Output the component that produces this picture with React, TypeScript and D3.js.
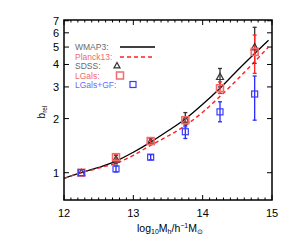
import React from "react";
import * as d3 from "d3";

const W = 291;
const H = 242;

// model curves (log10 Mh, b_rel)
const curveX = [12, 12.25, 12.5, 12.75, 13, 13.25, 13.5, 13.75, 14, 14.25, 14.5, 14.75, 14.95];
const wmap3 = [0.93, 1.0, 1.07, 1.16, 1.3, 1.48, 1.71, 1.99, 2.4, 2.95, 3.7, 4.6, 5.45];
const planck13 = [0.93, 1.0, 1.06, 1.13, 1.25, 1.42, 1.6, 1.83, 2.17, 2.66, 3.3, 4.15, 5.0];

// measured points
const massBins = [12.25, 12.75, 13.25, 13.75, 14.25, 14.75];
const sdss = [1.0, 1.19, 1.49, 1.98, 3.42, 5.0];
const sdssLo = [1.0, 1.12, 1.44, 1.84, 3.0, 4.06];
const sdssHi = [1.0, 1.25, 1.55, 2.16, 3.8, 6.44];
const lgals = [1.0, 1.22, 1.5, 1.96, 2.95, 4.7];
const lgalsLo = [1.0, 1.15, 1.45, 1.9, 2.76, 3.57];
const lgalsHi = [1.0, 1.27, 1.55, 2.04, 3.2, 5.83];
const lgalsGF = [1.0, 1.05, 1.22, 1.69, 2.18, 2.74];
const lgalsGFLo = [1.0, 1.01, 1.18, 1.55, 1.92, 1.96];
const lgalsGFHi = [1.0, 1.09, 1.26, 1.8, 2.48, 3.45];

const xTicks = [12, 13, 14, 15];
const yTicks = [1, 2, 3, 4, 5, 6, 7];

const legendItems = ["WMAP3:", "Planck13:", "SDSS:", "LGals:", "LGals+GF:"];
const legendColors = ["#6a6a6a", "#f06a6a", "#6a6a6a", "#f06a6a", "#6a6aff"];

const FONT = "'Liberation Sans', Arial, Helvetica, sans-serif";

export default function App() {
  const left = 64, right = 272, top = 20, bottom = 200;
  const x = d3.scaleLinear().domain([12, 15]).range([left, right]);
  const y = d3.scaleLog().domain([0.705, 7.07]).range([bottom, top]);

  const line = d3
    .line<number>()
    .x((_, i) => x(curveX[i]))
    .y((d) => y(d))
    .curve(d3.curveMonotoneX);

  const minorX = d3.range(120, 151).map((v) => v / 10);

  const errBar = (
    xs: number[], lo: number[], hi: number[], color: string, key: string
  ) =>
    xs.map((xv, i) => {
      if (hi[i] === lo[i]) return null;
      const cx = x(xv);
      return (
        <g key={key + i} stroke={color} strokeWidth={1.3}>
          <line x1={cx} x2={cx} y1={y(lo[i])} y2={y(hi[i])} />
          <line x1={cx - 2} x2={cx + 2} y1={y(lo[i])} y2={y(lo[i])} />
          <line x1={cx - 2} x2={cx + 2} y1={y(hi[i])} y2={y(hi[i])} />
        </g>
      );
    });

  const tri = (cx: number, cy: number, s = 3.5) =>
    `M${cx},${cy - s}L${cx + s},${cy + s * 0.8}L${cx - s},${cy + s * 0.8}Z`;

  return (
    <svg
      width={W}
      height={H}
      style={{ position: "absolute", left: 0, top: 0, background: "#fff" }}
      fontFamily={FONT}
    >
      <defs>
        <clipPath id="plot">
          <rect x={left} y={top} width={right - left} height={bottom - top} />
        </clipPath>
      </defs>

      {/* ticks */}
      <g stroke="#000" strokeWidth={1}>
        {minorX.map((v) => {
          const major = Math.abs(v - Math.round(v)) < 1e-6;
          const len = major ? 5 : 2.5;
          return (
            <g key={"mx" + v}>
              <line x1={x(v)} x2={x(v)} y1={bottom} y2={bottom - len} />
              <line x1={x(v)} x2={x(v)} y1={top} y2={top + len} />
            </g>
          );
        })}
        {yTicks.map((v) => (
          <g key={"my" + v}>
            <line x1={left} x2={left + 5} y1={y(v)} y2={y(v)} />
            <line x1={right} x2={right - 5} y1={y(v)} y2={y(v)} />
          </g>
        ))}
      </g>

      {/* curves */}
      <g clipPath="url(#plot)" fill="none">
        <path d={line(wmap3) || ""} stroke="#000" strokeWidth={1.3} />
        <path
          d={line(planck13) || ""}
          stroke="#ff2020"
          strokeWidth={1.4}
          strokeDasharray="4,3"
        />
      </g>

      {/* error bars */}
      {errBar(massBins, sdssLo, sdssHi, "#333", "s")}
      {errBar(massBins, lgalsLo, lgalsHi, "#ff2020", "l")}
      {errBar(massBins, lgalsGFLo, lgalsGFHi, "#2a2aff", "g")}

      {/* markers */}
      {massBins.map((mv, i) => (
        <g key={"pt" + i}>
          <path d={tri(x(mv), y(sdss[i]))} fill="none" stroke="#333" strokeWidth={1.2} />
          <rect
            x={x(mv) - 3.5}
            y={y(lgals[i]) - 3.5}
            width={7}
            height={7}
            fill="#f26a6a"
            fillOpacity={0.15}
            stroke="#f26a6a"
            strokeWidth={1.5}
          />
          <rect
            x={x(mv) - 3}
            y={y(lgalsGF[i]) - 3}
            width={6}
            height={6}
            fill="none"
            stroke="#3a3aff"
            strokeWidth={1.2}
          />
        </g>
      ))}

      {/* frame */}
      <rect
        x={left}
        y={top}
        width={right - left}
        height={bottom - top}
        fill="none"
        stroke="#000"
        strokeWidth={1.5}
      />

      {/* tick labels */}
      {xTicks.map((v) => (
        <text key={"xl" + v} x={x(v)} y={217} textAnchor="middle" fontSize={11}>
          {v}
        </text>
      ))}
      {yTicks.map((v) => (
        <text key={"yl" + v} x={59} y={y(v) + 4} textAnchor="end" fontSize={11}>
          {v}
        </text>
      ))}

      {/* axis titles */}
      <text x={170} y={232} textAnchor="middle" fontSize={10.5}>
        log
        <tspan fontSize={7} dy={2}>10</tspan>
        <tspan dy={-2}>M</tspan>
        <tspan fontSize={7} dy={2}>h</tspan>
        <tspan dy={-2}>/h</tspan>
        <tspan fontSize={7} dy={-4}>−1</tspan>
        <tspan dy={4}>M</tspan>
        <tspan fontSize={7} dy={2}>⊙</tspan>
      </text>
      <text
        transform="translate(45,112) rotate(-90)"
        textAnchor="middle"
        fontSize={10}
      >
        b<tspan fontSize={6.5} dy={2}>rel</tspan>
      </text>

      {/* legend */}
      {legendItems.map((t, i) => (
        <text
          key={"lg" + i}
          x={75}
          y={[47, 57, 66, 75.5, 85][i] + 3}
          fontSize={8.5}
          fill={legendColors[i]}
        >
          {t}
        </text>
      ))}
      <line x1={120} x2={155} y1={47} y2={47} stroke="#000" strokeWidth={1.3} />
      <line
        x1={120}
        x2={155}
        y1={57}
        y2={57}
        stroke="#ff2020"
        strokeWidth={1.4}
        strokeDasharray="4,3"
      />
      <path d={tri(117, 65.5, 3)} fill="none" stroke="#333" strokeWidth={1.2} />
      <rect x={116.5} y={72} width={7} height={7} fill="none" stroke="#f26a6a" strokeWidth={1.5} />
      <rect x={130} y={81.5} width={6} height={6} fill="none" stroke="#3a3aff" strokeWidth={1.2} />
    </svg>
  );
}
